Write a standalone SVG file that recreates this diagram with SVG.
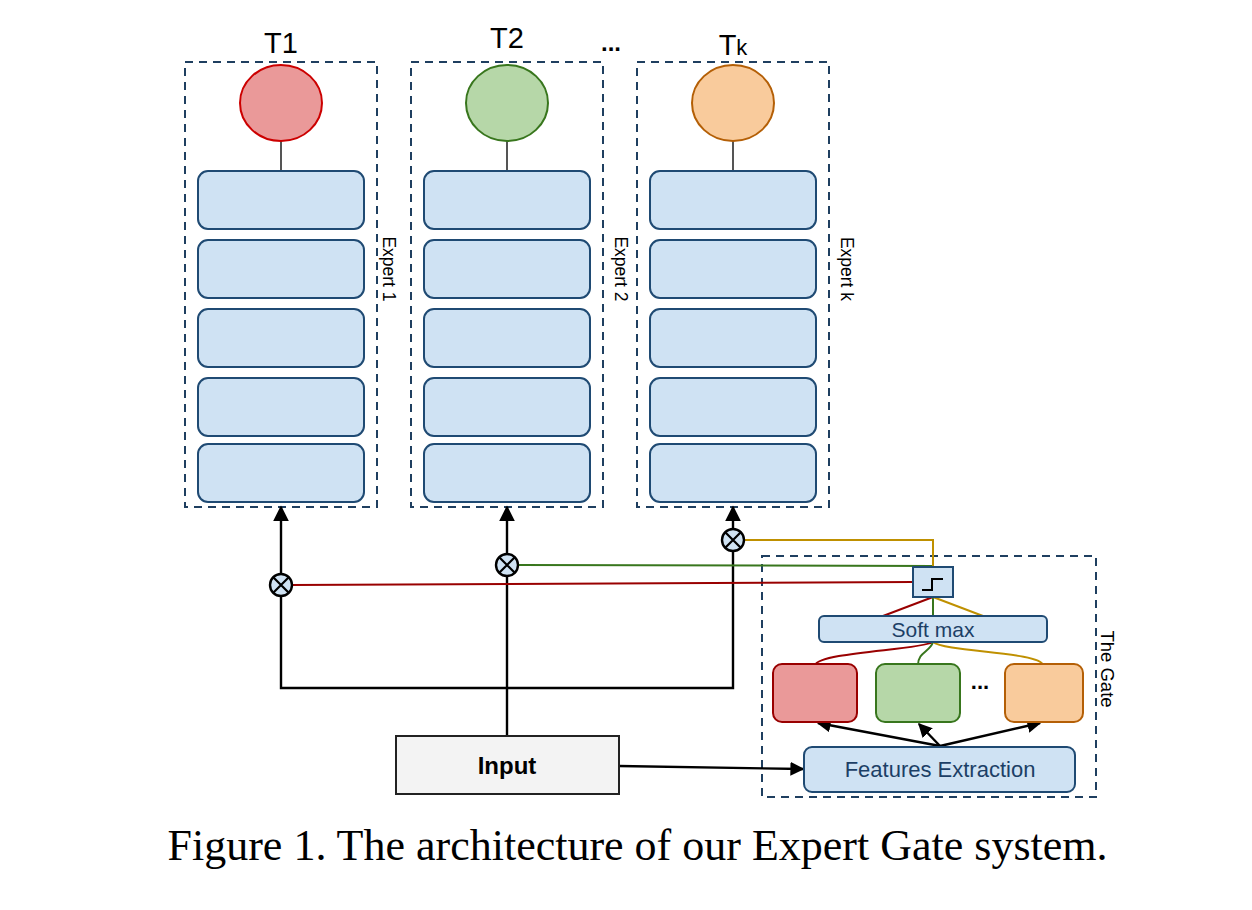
<svg xmlns="http://www.w3.org/2000/svg" width="1252" height="910" viewBox="0 0 1252 910">
<style>
.dash{fill:none;stroke:#1f3f60;stroke-width:2;stroke-dasharray:8,6}
.layer{fill:#cfe2f3;stroke:#1f4a73;stroke-width:2}
.lbl{font-family:"Liberation Sans",Arial,sans-serif;fill:#000}
.nav{font-family:"Liberation Sans",Arial,sans-serif;fill:#1c3f66}
.blk{fill:none;stroke:#000;stroke-width:2.4}
.mul{fill:#cfe2f3;stroke:#000;stroke-width:2.4}
.grey{stroke:#555;stroke-width:2}
</style>
<defs>
<marker id="ahb" viewBox="0 0 10 10" refX="9" refY="5" markerWidth="14" markerHeight="14" markerUnits="userSpaceOnUse" orient="auto"><path d="M0,0 L10,5 L0,10 z" fill="#000"/></marker>
<marker id="ahu" viewBox="0 0 10 10" refX="9" refY="5" markerWidth="16" markerHeight="16" markerUnits="userSpaceOnUse" orient="auto"><path d="M0,0 L10,5 L0,10 z" fill="#000"/></marker>
<g id="mulsym"><circle r="11" class="mul"/><path d="M-7.5,-7.5 L7.5,7.5 M-7.5,7.5 L7.5,-7.5" stroke="#000" stroke-width="2.2"/></g>
</defs>
<rect width="1252" height="910" fill="#fff"/>

<g id="expert1">
<rect class="dash" x="185" y="62" width="192" height="445"/>
<text class="lbl" x="281" y="53" font-size="29" text-anchor="middle">T1</text>
<line class="grey" x1="281" y1="141" x2="281" y2="171"/>
<ellipse cx="281" cy="103" rx="41" ry="38" fill="#ea9999" stroke="#cc0000" stroke-width="2"/>
<rect class="layer" x="198" y="171" width="166" height="58" rx="10"/>
<rect class="layer" x="198" y="240" width="166" height="58" rx="10"/>
<rect class="layer" x="198" y="309" width="166" height="58" rx="10"/>
<rect class="layer" x="198" y="378" width="166" height="58" rx="10"/>
<rect class="layer" x="198" y="444" width="166" height="58" rx="10"/>
<text class="lbl" font-size="17.5" transform="translate(383,269) rotate(90)" text-anchor="middle">Expert 1</text>
</g>

<g id="expert2">
<rect class="dash" x="411" y="62" width="192" height="445"/>
<text class="lbl" x="507" y="48" font-size="29" text-anchor="middle">T2</text>
<line class="grey" x1="507" y1="141" x2="507" y2="171"/>
<ellipse cx="507" cy="103" rx="41" ry="38" fill="#b6d7a8" stroke="#38761d" stroke-width="2"/>
<rect class="layer" x="424" y="171" width="166" height="58" rx="10"/>
<rect class="layer" x="424" y="240" width="166" height="58" rx="10"/>
<rect class="layer" x="424" y="309" width="166" height="58" rx="10"/>
<rect class="layer" x="424" y="378" width="166" height="58" rx="10"/>
<rect class="layer" x="424" y="444" width="166" height="58" rx="10"/>
<text class="lbl" font-size="17.5" transform="translate(615,269) rotate(90)" text-anchor="middle">Expert 2</text>
</g>

<text class="lbl" x="611" y="51" font-size="24" font-weight="bold" text-anchor="middle">...</text>

<g id="expertk">
<rect class="dash" x="637" y="62" width="192" height="445"/>
<text class="lbl" x="733" y="55" font-size="29" text-anchor="middle">T<tspan font-size="22">k</tspan></text>
<line class="grey" x1="733" y1="141" x2="733" y2="171"/>
<ellipse cx="733" cy="103" rx="41" ry="38" fill="#f9cb9c" stroke="#b45f06" stroke-width="2"/>
<rect class="layer" x="650" y="171" width="166" height="58" rx="10"/>
<rect class="layer" x="650" y="240" width="166" height="58" rx="10"/>
<rect class="layer" x="650" y="309" width="166" height="58" rx="10"/>
<rect class="layer" x="650" y="378" width="166" height="58" rx="10"/>
<rect class="layer" x="650" y="444" width="166" height="58" rx="10"/>
<text class="lbl" font-size="17.5" transform="translate(841,269) rotate(90)" text-anchor="middle">Expert k</text>
</g>

<g id="gate">
<rect class="dash" x="762" y="556" width="334" height="241"/>
<text class="lbl" font-size="18.5" transform="translate(1101,669) rotate(90)" text-anchor="middle">The Gate</text>
</g>

<g id="connectors">
<polyline class="blk" points="507,735 507,576"/>
<polyline class="blk" points="281,596 281,688 733,688 733,551"/>
<line class="blk" x1="281" y1="574" x2="281" y2="507" marker-end="url(#ahu)"/>
<line class="blk" x1="507" y1="554" x2="507" y2="507" marker-end="url(#ahu)"/>
<line class="blk" x1="733" y1="529" x2="733" y2="507" marker-end="url(#ahu)"/>
<line x1="292" y1="585" x2="913" y2="582" stroke="#990000" stroke-width="2"/>
<polyline points="518,565 933,566 933,567" fill="none" stroke="#38761d" stroke-width="2"/>
<polyline points="744,540 933,540 933,567" fill="none" stroke="#bf9000" stroke-width="2"/>
<line x1="933" y1="597" x2="883" y2="616" stroke="#990000" stroke-width="2"/>
<line x1="933" y1="597" x2="933" y2="616" stroke="#38761d" stroke-width="2"/>
<line x1="933" y1="597" x2="983" y2="616" stroke="#bf9000" stroke-width="2"/>
<path d="M933,642 C920,650 820,652 815,665" fill="none" stroke="#990000" stroke-width="2"/>
<path d="M933,642 C930,652 918,652 918,665" fill="none" stroke="#38761d" stroke-width="2"/>
<path d="M933,642 C945,652 1040,652 1043,665" fill="none" stroke="#bf9000" stroke-width="2"/>
<line class="blk" x1="940" y1="746" x2="818" y2="723" marker-end="url(#ahb)"/>
<line class="blk" x1="940" y1="746" x2="919" y2="724" marker-end="url(#ahb)"/>
<line class="blk" x1="940" y1="746" x2="1040" y2="723" marker-end="url(#ahb)"/>
<line class="blk" x1="619" y1="766" x2="803" y2="769" marker-end="url(#ahb)"/>
<use href="#mulsym" x="281" y="585"/>
<use href="#mulsym" x="507" y="565"/>
<use href="#mulsym" x="733" y="540"/>
</g>

<g id="threshold">
<rect x="913" y="567" width="40" height="30" fill="#cfe2f3" stroke="#1f4a73" stroke-width="2"/>
<polyline points="922,590 932,590 932,579 943,579" fill="none" stroke="#000" stroke-width="2"/>
</g>

<g id="softmax">
<rect class="layer" x="819" y="616" width="228" height="26" rx="5"/>
<text class="nav" x="933" y="637" font-size="21" text-anchor="middle">Soft max</text>
</g>

<g id="gate-red"><rect x="773" y="664" width="84" height="58" rx="9" fill="#ea9999" stroke="#990000" stroke-width="2"/></g>
<g id="gate-green"><rect x="876" y="664" width="84" height="58" rx="9" fill="#b6d7a8" stroke="#38761d" stroke-width="2"/></g>
<text class="lbl" x="980" y="689" font-size="22" font-weight="bold" text-anchor="middle">...</text>
<g id="gate-orange"><rect x="1005" y="664" width="78" height="58" rx="9" fill="#f9cb9c" stroke="#b45f06" stroke-width="2"/></g>

<g id="features">
<rect class="layer" x="804" y="747" width="271" height="45" rx="8"/>
<text class="nav" x="940" y="777" font-size="22" text-anchor="middle">Features Extraction</text>
</g>

<g id="input">
<rect x="396" y="736" width="223" height="58" fill="#f3f3f3" stroke="#222" stroke-width="2"/>
<text class="lbl" x="507" y="774" font-size="24" font-weight="bold" text-anchor="middle">Input</text>
</g>

<text x="637.5" y="860" font-family="Liberation Serif,'Times New Roman',serif" font-size="44" text-anchor="middle" fill="#000">Figure 1. The architecture of our Expert Gate system.</text>
</svg>
